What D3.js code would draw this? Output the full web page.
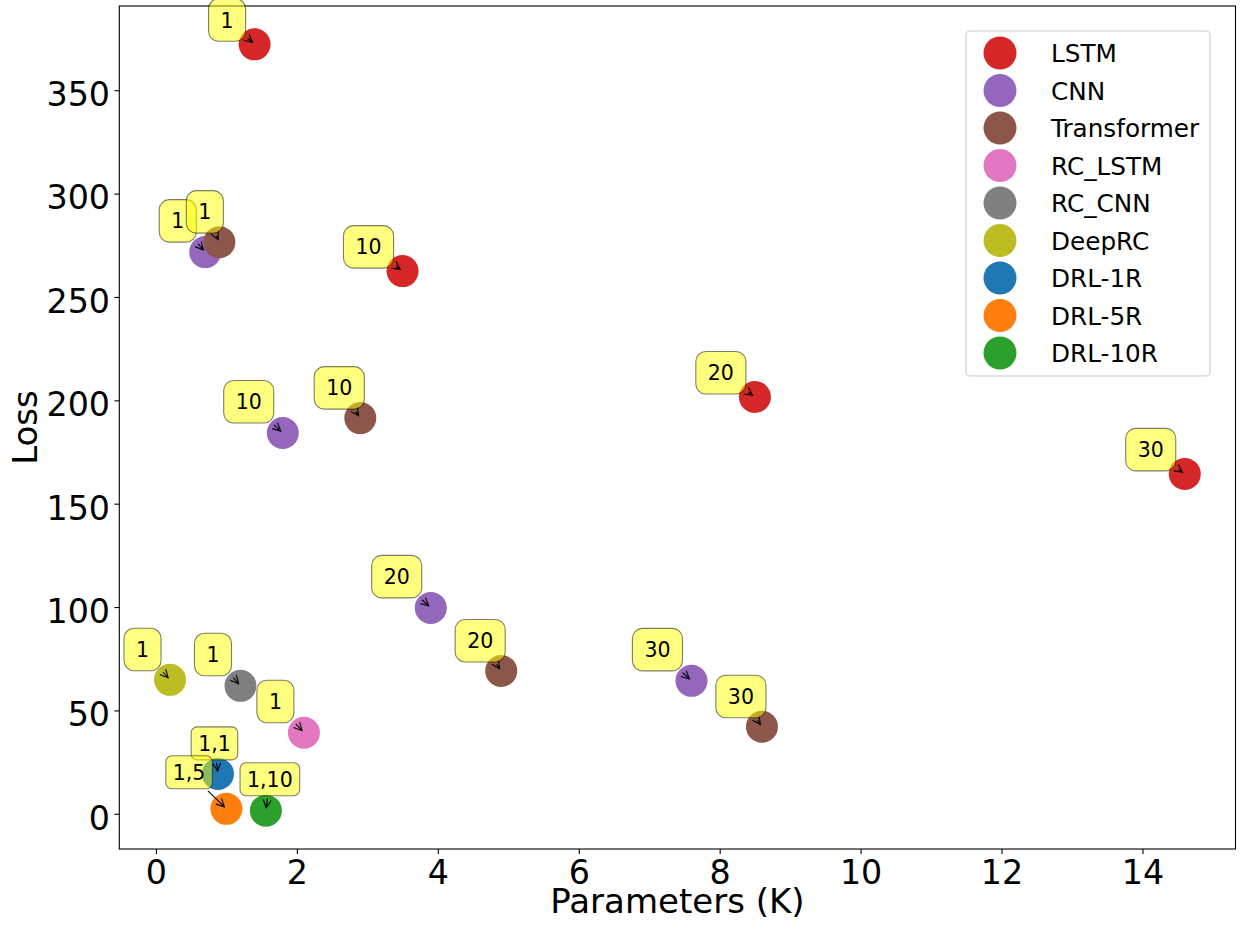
<!DOCTYPE html>
<html>
<head>
<meta charset="utf-8">
<script src="https://cdn.jsdelivr.net/npm/d3@7"></script>
<style>
  body { margin: 0; background: #fff; }
  text { font-family: "DejaVu Sans", sans-serif; }
</style>
</head>
<body>
<div id="chart"></div>
<script>
var width = 1242, height = 935;
var margin = {top: 6, right: 6.5, bottom: 86, left: 119.3};

// data
var seriesNames = ["LSTM", "CNN", "Transformer", "RC_LSTM", "RC_CNN", "DeepRC", "DRL-1R", "DRL-5R", "DRL-10R"];

var lstmParams = [1.4, 3.5, 8.5, 14.6];
var lstmLoss = [372.2, 262.5, 201.6, 164.4];
var lstmTags = ["1", "10", "20", "30"];

var cnnParams = [0.7, 1.8, 3.9, 7.6];
var cnnLoss = [271.7, 184.2, 99.6, 64.3];
var cnnTags = ["1", "10", "20", "30"];

var transformerParams = [0.9, 2.9, 4.9, 8.6];
var transformerLoss = [276.5, 191.4, 69.1, 42.1];
var transformerTags = ["1", "10", "20", "30"];

var rcLstmParams = [2.1], rcLstmLoss = [39.2], rcLstmTags = ["1"];
var rcCnnParams = [1.2], rcCnnLoss = [61.9], rcCnnTags = ["1"];
var deepRcParams = [0.2], deepRcLoss = [64.8], deepRcTags = ["1"];
var drl1Params = [0.88], drl1Loss = [19.3], drl1Tags = ["1,1"];
var drl5Params = [1.0], drl5Loss = [2.4], drl5Tags = ["1,5"];
var drl10Params = [1.56], drl10Loss = [1.5], drl10Tags = ["1,10"];

var xTicks = [0, 2, 4, 6, 8, 10, 12, 14];
var yTicks = [0, 50, 100, 150, 200, 250, 300, 350];

// styles
var seriesColors = ["#d62728", "#9467bd", "#8c564b", "#e377c2", "#7f7f7f", "#bcbd22", "#1f77b4", "#ff7f0e", "#2ca02c"];
// where each tag box sits relative to its point (box bottom corner)
var tagStyle = [
  {anchor: "end", dx: -9, dy: -3},
  {anchor: "end", dx: -9, dy: -10},
  {anchor: "end", dx: 4, dy: -9},
  {anchor: "end", dx: -10, dy: -10},
  {anchor: "end", dx: -9, dy: -10},
  {anchor: "end", dx: -9, dy: -9},
  {anchor: "middle", dx: -3.5, dy: -14, small: true},
  {anchor: "end", dx: -14, dy: -20, small: true},
  {anchor: "middle", dx: 4, dy: -15, small: true}
];

var series = [
  [lstmParams, lstmLoss, lstmTags],
  [cnnParams, cnnLoss, cnnTags],
  [transformerParams, transformerLoss, transformerTags],
  [rcLstmParams, rcLstmLoss, rcLstmTags],
  [rcCnnParams, rcCnnLoss, rcCnnTags],
  [deepRcParams, deepRcLoss, deepRcTags],
  [drl1Params, drl1Loss, drl1Tags],
  [drl5Params, drl5Loss, drl5Tags],
  [drl10Params, drl10Loss, drl10Tags]
].map(function(s, i) {
  return {
    name: seriesNames[i], color: seriesColors[i], style: tagStyle[i],
    points: s[0].map(function(p, j) { return {x: p, y: s[1][j], tag: s[2][j]}; })
  };
});

var allPts = d3.merge(series.map(function(s) { return s.points; }));

// matplotlib style 5% margins
function padded(ext) {
  var m = (ext[1] - ext[0]) * 0.05;
  return [ext[0] - m, ext[1] + m];
}

var x = d3.scaleLinear()
    .domain(padded(d3.extent(allPts, function(d) { return d.x; })))
    .range([margin.left, width - margin.right]);

var y = d3.scaleLinear()
    .domain(padded(d3.extent(allPts, function(d) { return d.y; })))
    .range([height - margin.bottom, margin.top]);

var svg = d3.select("#chart").append("svg")
    .attr("width", width)
    .attr("height", height)
    .style("overflow", "visible");

// axes
var xAxis = svg.append("g")
    .attr("transform", "translate(0," + (height - margin.bottom) + ")")
    .call(d3.axisBottom(x).tickValues(xTicks).tickSize(4.9).tickPadding(6.5).tickSizeOuter(0));

var yAxis = svg.append("g")
    .attr("transform", "translate(" + margin.left + ",0)")
    .call(d3.axisLeft(y).tickValues(yTicks).tickSize(4.9).tickPadding(4.4).tickSizeOuter(0));

[xAxis, yAxis].forEach(function(a) {
  a.select(".domain").remove();
  a.selectAll(".tick line").attr("stroke", "#000").attr("stroke-width", 1.1);
  a.selectAll(".tick text")
      .attr("fill", "#000")
      .style("font-family", "'DejaVu Sans', sans-serif")
      .style("font-size", "33.3px");
});
yAxis.selectAll(".tick text").attr("dy", "0.46em");

svg.append("rect")
    .attr("x", margin.left)
    .attr("y", margin.top)
    .attr("width", width - margin.left - margin.right)
    .attr("height", height - margin.top - margin.bottom)
    .attr("fill", "none")
    .attr("stroke", "#000")
    .attr("stroke-width", 1.1);

svg.append("text")
    .attr("x", (margin.left + width - margin.right) / 2)
    .attr("y", 913)
    .attr("text-anchor", "middle")
    .style("font-size", "34px")
    .text("Parameters (K)");

svg.append("text")
    .attr("transform", "translate(37," + (margin.top + height - margin.bottom) / 2 + ") rotate(-90)")
    .attr("text-anchor", "middle")
    .style("font-size", "34px")
    .text("Loss");

// points
var g = svg.append("g");

series.forEach(function(s) {
  g.selectAll(null)
      .data(s.points)
    .enter().append("circle")
      .attr("cx", function(d) { return x(d.x); })
      .attr("cy", function(d) { return y(d.y); })
      .attr("r", 16)
      .attr("fill", s.color);
});

// tag boxes with arrows
var tags = svg.append("g");

series.forEach(function(s) {
  s.points.forEach(function(d) {
    drawTag(tags, x(d.x), y(d.y), d.tag, s.style);
  });
});

function drawTag(parent, px, py, label, st) {
  var padX = st.small ? 7 : 12,
      boxH = st.small ? 33 : 42.5,
      fs = 20.5;

  var a = parent.append("g");
  var arrow = a.append("path");
  var box = a.append("rect");
  var t = a.append("text").style("font-size", fs + "px").attr("text-anchor", "middle").text(label);

  var w = t.node().getComputedTextLength() + 2 * padX;
  var bottom = py + st.dy, top = bottom - boxH;
  var left = st.anchor === "end" ? px + st.dx - w : px + st.dx - w / 2;
  var cx = left + w / 2, cy = top + boxH / 2;

  box.attr("x", left).attr("y", top)
      .attr("width", w).attr("height", boxH)
      .attr("rx", st.small ? 6 : 10)
      .attr("fill", "#ffff00").attr("fill-opacity", 0.5)
      .attr("stroke", "#000").attr("stroke-opacity", 0.5).attr("stroke-width", 1.1);

  t.attr("x", cx).attr("y", cy + 0.365 * fs);

  // arrow leaves the box edge and stops just short of the point
  var vx = px - cx, vy = py - cy, len = Math.sqrt(vx * vx + vy * vy);
  var ux = vx / len, uy = vy / len;
  var te = Math.min(Math.abs(vx) > 0 ? (w / 2) / Math.abs(vx) : Infinity,
                    Math.abs(vy) > 0 ? (boxH / 2) / Math.abs(vy) : Infinity);
  var sx = cx + vx * te + ux * 2.8, sy = cy + vy * te + uy * 2.8;
  var ex = px - ux * 2.8, ey = py - uy * 2.8;
  if ((ex - sx) * ux + (ey - sy) * uy <= 0) return;

  var hl = 8, hw = 4, nx = -uy, ny = ux;
  var bx = ex - ux * hl, by = ey - uy * hl;
  arrow.attr("d",
      "M" + sx + "," + sy + "L" + ex + "," + ey +
      "M" + (bx + nx * hw) + "," + (by + ny * hw) + "L" + ex + "," + ey +
      "L" + (bx - nx * hw) + "," + (by - ny * hw))
      .attr("fill", "none")
      .attr("stroke", "#000")
      .attr("stroke-width", 1.1);
}

// legend
var legend = svg.append("g");

legend.append("rect")
    .attr("x", 966).attr("y", 31)
    .attr("width", 244).attr("height", 345)
    .attr("rx", 4)
    .attr("fill", "#fff").attr("fill-opacity", 0.8)
    .attr("stroke", "#cccccc").attr("stroke-width", 1.1);

var items = legend.selectAll(".item")
    .data(series)
  .enter().append("g")
    .attr("class", "item")
    .attr("transform", function(d, i) { return "translate(1000," + (53 + i * 37.5) + ")"; });

items.append("circle")
    .attr("r", 16.5)
    .attr("fill", function(d) { return d.color; });

items.append("text")
    .attr("x", 51)
    .attr("y", 9)
    .style("font-size", "24.7px")
    .text(function(d) { return d.name; });
</script>
</body>
</html>
